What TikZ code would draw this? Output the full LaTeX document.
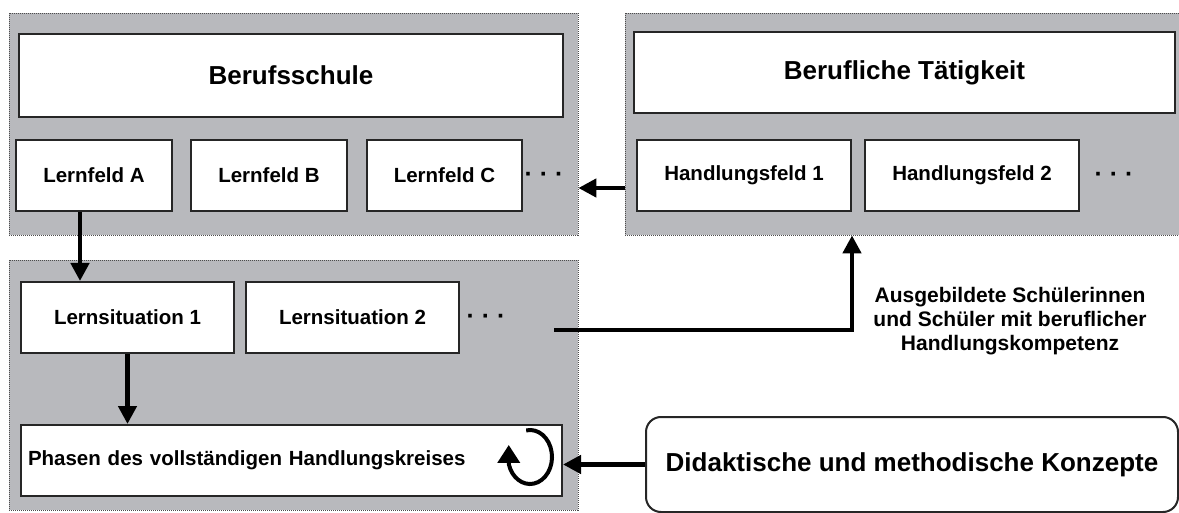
\documentclass[tikz,border=0pt]{standalone}
\usepackage{fontspec}
\setmainfont{Liberation Sans}
\usetikzlibrary{arrows.meta}
\definecolor{panelgrey}{RGB}{184,185,189}

\begin{document}
\begin{tikzpicture}[x=1pt, y=-1pt,
  panel/.style={draw=black!70, fill=panelgrey, line width=0.8pt,
    dash pattern=on 1pt off 1pt, inner sep=0pt},
  field/.style={draw=black!85, fill=white, line width=2pt, minimum height=71pt,
    font={\fontsize{20.5}{24}\selectfont\bfseries}},
  title/.style={field, font={\fontsize{26}{30}\selectfont\bfseries}},
  dots/.style={font={\fontsize{25}{30}\selectfont\bfseries}},
  link/.style={line width=4.5pt, line join=miter, -{Triangle[length=18pt,width=18pt]}}]
\clip (0,0) rectangle (1179,513);

% grey panels
\node[panel, minimum width=569pt, minimum height=222pt] (schule) at (293.5,124) {};
\node[panel, minimum width=570pt, minimum height=222pt] (beruf) at (910,124) {};
\node[panel, minimum width=569pt, minimum height=250pt] (unterricht) at (293.5,385) {};

% Berufsschule
\node[title, minimum width=544pt, minimum height=83pt] (bs) at (291,75.5) {Berufsschule};
\node[field, minimum width=156pt] (lfA) at (94,175.5) {Lernfeld A};
\node[field, minimum width=156pt] (lfB) at (269,175.5) {Lernfeld B};
\node[field, minimum width=155pt] (lfC) at (444.5,175.5) {Lernfeld C};
\node[dots] (lfdots) at (544,177) {· · ·};

% berufliche Taetigkeit
\node[title, minimum width=541pt, minimum height=81pt] (bt) at (904.5,72.5) {Berufliche Tätigkeit};
\node[field, minimum width=214pt] (hf1) at (744,175.5) {Handlungsfeld 1};
\node[field, minimum width=214pt] (hf2) at (972,175.5) {Handlungsfeld 2};
\node[dots] (hfdots) at (1114,177) {· · ·};

% Lernsituationen
\node[field, minimum width=213pt] (ls1) at (127.5,317.5) {Lernsituation 1};
\node[field, minimum width=213pt] (ls2) at (352.5,317.5) {Lernsituation 2};
\node[dots] (lsdots) at (486,319) {· · ·};
\node[field, inner xsep=7pt, text width=527pt, align=left] (phasen) at (291.5,460.5)
  {Phasen des vollständigen Handlungskreises};
\coordinate (kreis) at (530,457);
\draw[line width=4pt, -{Triangle[length=18pt,width=22pt]}]
  (kreis) ++(100:22pt and 27pt) arc[start angle=100, end angle=-165, x radius=22pt, y radius=27pt]
  -- ++(0pt,19pt);

\node[draw=black!85, fill=white, line width=2pt, rounded corners=15pt,
  minimum width=532pt, minimum height=95pt,
  font={\fontsize{26}{30}\selectfont\bfseries}] (konzepte) at (912,464.5)
  {Didaktische und methodische Konzepte};
\node[align=center, font={\fontsize{21}{24}\selectfont\bfseries}] (absolventen) at (1010,321)
  {Ausgebildete Schülerinnen\\und Schüler mit beruflicher\\Handlungskompetenz};

% connectors
\draw[link] (beruf.west |- 0,188) -- (schule.east |- 0,188);
\draw[link] ([xshift=-14pt]lfA.south) -- ([xshift=-14pt]lfA.south |- ls1.north);
\draw[link] (ls1.south) -- (ls1.south |- phasen.north);
\coordinate (lsout) at (554,330);
\draw[link] (lsout) -| (beruf.south -| hf1.east);
\draw[link] (konzepte.west) -- (konzepte.west -| phasen.east);
\end{tikzpicture}
\end{document}
